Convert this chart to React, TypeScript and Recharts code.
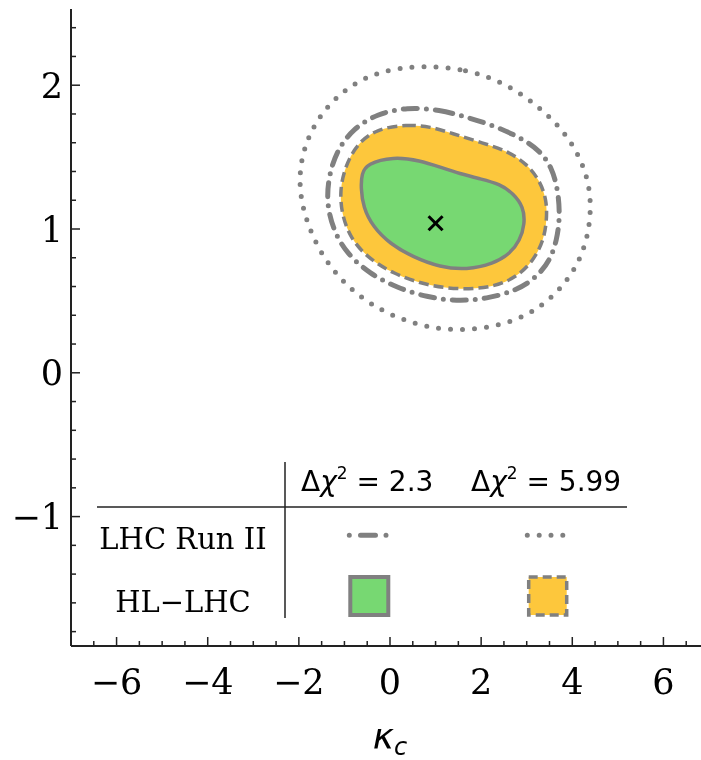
import React from 'react';
import { ScatterChart, Scatter, XAxis, YAxis } from 'recharts';

// tick values
const xTicks = [-6.5, -6, -5.5, -5, -4.5, -4, -3.5, -3, -2.5, -2, -1.5, -1, -0.5, 0, 0.5, 1, 1.5, 2, 2.5, 3, 3.5, 4, 4.5, 5, 5.5, 6, 6.5];
const yTicks = [-1.8, -1.6, -1.4, -1.2, -1, -0.8, -0.6, -0.4, -0.2, 0, 0.2, 0.4, 0.6, 0.8, 1, 1.2, 1.4, 1.6, 1.8, 2, 2.2, 2.4];
const xMajor = [-6, -4, -2, 0, 2, 4, 6];
const yMajor = [-1, 0, 1, 2];

// HL-LHC, Δχ² = 2.3 (green region)
const hlLhc23 = [
  { x: -0.51, y: 1.453 }, { x: 0.07, y: 1.504 }, { x: 0.66, y: 1.476 }, { x: 1.1, y: 1.43 },
  { x: 1.54, y: 1.384 }, { x: 1.97, y: 1.349 }, { x: 2.41, y: 1.314 }, { x: 2.71, y: 1.245 },
  { x: 2.93, y: 1.152 }, { x: 2.96, y: 1.036 }, { x: 2.85, y: 0.92 }, { x: 2.63, y: 0.828 },
  { x: 2.27, y: 0.758 }, { x: 1.68, y: 0.716 }, { x: 1.1, y: 0.734 }, { x: 0.51, y: 0.804 },
  { x: 0.0, y: 0.897 }, { x: -0.37, y: 1.013 }, { x: -0.59, y: 1.152 }, { x: -0.64, y: 1.29 },
  { x: -0.62, y: 1.384 },
];

// HL-LHC, Δχ² = 5.99 (yellow region)
const hlLhc599 = [
  { x: -0.29, y: 1.697 }, { x: 0.37, y: 1.727 }, { x: 0.88, y: 1.713 }, { x: 1.39, y: 1.662 },
  { x: 1.97, y: 1.604 }, { x: 2.56, y: 1.546 }, { x: 3.0, y: 1.453 }, { x: 3.29, y: 1.337 },
  { x: 3.44, y: 1.198 }, { x: 3.44, y: 1.059 }, { x: 3.37, y: 0.92 }, { x: 3.15, y: 0.781 },
  { x: 2.78, y: 0.665 }, { x: 2.27, y: 0.595 }, { x: 1.54, y: 0.577 }, { x: 0.81, y: 0.607 },
  { x: 0.07, y: 0.688 }, { x: -0.51, y: 0.804 }, { x: -0.88, y: 0.943 }, { x: -1.06, y: 1.106 },
  { x: -1.1, y: 1.268 }, { x: -0.99, y: 1.43 }, { x: -0.73, y: 1.592 },
];

// LHC Run II, Δχ² = 2.3 (dash-dot)
const run2_23 = [
  { x: 0.37, y: 1.847 }, { x: 1.1, y: 1.829 }, { x: 1.68, y: 1.778 }, { x: 2.27, y: 1.72 },
  { x: 2.85, y: 1.638 }, { x: 3.29, y: 1.546 }, { x: 3.55, y: 1.43 }, { x: 3.69, y: 1.268 },
  { x: 3.73, y: 1.082 }, { x: 3.66, y: 0.92 }, { x: 3.51, y: 0.781 }, { x: 3.22, y: 0.665 },
  { x: 2.78, y: 0.572 }, { x: 2.12, y: 0.514 }, { x: 1.46, y: 0.498 }, { x: 0.81, y: 0.526 },
  { x: 0.15, y: 0.591 }, { x: -0.44, y: 0.688 }, { x: -0.95, y: 0.828 }, { x: -1.24, y: 0.99 },
  { x: -1.39, y: 1.175 }, { x: -1.35, y: 1.36 }, { x: -1.17, y: 1.546 }, { x: -0.81, y: 1.697 },
  { x: -0.29, y: 1.801 },
];

// LHC Run II, Δχ² = 5.99 (dotted)
const run2_599 = [
  { x: 0.66, y: 2.137 }, { x: 1.68, y: 2.114 }, { x: 2.56, y: 2.01 }, { x: 3.29, y: 1.847 },
  { x: 3.88, y: 1.662 }, { x: 4.28, y: 1.43 }, { x: 4.43, y: 1.198 }, { x: 4.35, y: 0.943 },
  { x: 4.1, y: 0.734 }, { x: 3.66, y: 0.549 }, { x: 3.0, y: 0.387 }, { x: 2.12, y: 0.306 },
  { x: 1.24, y: 0.294 }, { x: 0.51, y: 0.341 }, { x: -0.22, y: 0.433 }, { x: -0.95, y: 0.595 },
  { x: -1.54, y: 0.828 }, { x: -1.9, y: 1.106 }, { x: -2.01, y: 1.337 }, { x: -1.9, y: 1.569 },
  { x: -1.54, y: 1.801 }, { x: -0.95, y: 1.986 }, { x: -0.22, y: 2.102 },
];

// best-fit point
const bestFit = [{ x: 1.0, y: 1.04 }];

const AXIS = '#222';
const GRAY = '#808080';
const GREEN = '#77D872';
const YELLOW = '#FDC73C';
const SERIF = "'DejaVu Serif', serif";
const SANS = "'DejaVu Sans', sans-serif";

const fmt = (v: number) => (v < 0 ? '\u2212' + Math.abs(v) : String(v));
const isMajor = (v: number, list: number[]) => list.some((m) => Math.abs(m - v) < 1e-9);

const BottomTick = (props: any) => {
  const { x, y, payload } = props;
  const major = isMajor(payload.value, xMajor);
  return (
    <g>
      <line x1={x} x2={x} y1={y} y2={y - (major ? 9 : 5)} stroke={AXIS} strokeWidth={1.5} />
      {major && (
        <text x={x} y={y + 48} textAnchor="middle" fontFamily={SERIF} fontSize={35} fill="#000">
          {fmt(payload.value)}
        </text>
      )}
    </g>
  );
};

const TopTick = (props: any) => {
  const { x, y, payload } = props;
  const major = isMajor(payload.value, xMajor);
  return <line x1={x} x2={x} y1={y} y2={y + (major ? 9 : 5)} stroke={AXIS} strokeWidth={1.5} />;
};

const LeftTick = (props: any) => {
  const { x, y, payload } = props;
  const major = isMajor(payload.value, yMajor);
  return (
    <g>
      <line x1={x} x2={x + (major ? 9 : 5)} y1={y} y2={y} stroke={AXIS} strokeWidth={1.5} />
      {major && (
        <text x={x - 8} y={y + 12.5} textAnchor="end" fontFamily={SERIF} fontSize={35} fill="#000">
          {fmt(payload.value)}
        </text>
      )}
    </g>
  );
};

const RightTick = (props: any) => {
  const { x, y, payload } = props;
  const major = isMajor(payload.value, yMajor);
  return <line x1={x} x2={x - (major ? 9 : 5)} y1={y} y2={y} stroke={AXIS} strokeWidth={1.5} />;
};

const KappaLabel = (props: any) => {
  const vb = props.viewBox || {};
  const cx = vb.x + vb.width / 2;
  return (
    <text x={cx} y={741} textAnchor="middle" fontFamily={SANS} fontStyle="italic" fontSize={36} fill="#000">
      κ<tspan fontSize={24} dy={6}>c</tspan>
    </text>
  );
};

const NoPoint = () => <g />;

const Cross = (props: any) => {
  const { cx, cy } = props;
  const s = 7;
  return (
    <g stroke="#000" strokeWidth={3}>
      <line x1={cx - s} y1={cy - s} x2={cx + s} y2={cy + s} />
      <line x1={cx - s} y1={cy + s} x2={cx + s} y2={cy - s} />
    </g>
  );
};

const LegendTable = () => (
  <svg width={702} height={752} style={{ position: 'absolute', left: 0, top: 0, pointerEvents: 'none' }}>
    <text x={293} y={483} fontFamily={SANS} fontSize={28} fill="#000">
      Δ<tspan fontStyle="italic">χ</tspan>
      <tspan fontSize={17} dy={-12}>2</tspan>
      <tspan dy={12}> = 2.3</tspan>
    </text>
    <text x={463} y={483} fontFamily={SANS} fontSize={28} fill="#000">
      Δ<tspan fontStyle="italic">χ</tspan>
      <tspan fontSize={17} dy={-12}>2</tspan>
      <tspan dy={12}> = 5.99</tspan>
    </text>
    <line x1={89} x2={619} y1={499} y2={499} stroke={AXIS} strokeWidth={1.5} />
    <line x1={277} x2={277} y1={454} y2={610} stroke={AXIS} strokeWidth={1.5} />
    <text x={175} y={541} textAnchor="middle" fontFamily={SERIF} fontSize={29} fill="#000">
      LHC Run II
    </text>
    <text x={175} y={604} textAnchor="middle" fontFamily={SERIF} fontSize={29} fill="#000">
      HL−LHC
    </text>
    <path
      d="M341.3,527.3 h0.01 M352.5,527.3 h15 M378,527.3 h0.01"
      stroke={GRAY}
      strokeWidth={5}
      strokeLinecap="round"
      fill="none"
    />
    <path
      d="M519.3,527.3 h0.01 M531.2,527.3 h0.01 M543,527.3 h0.01 M554.8,527.3 h0.01"
      stroke={GRAY}
      strokeWidth={5}
      strokeLinecap="round"
      fill="none"
    />
    <rect x={342.3} y={569} width={38} height={38} fill={GREEN} stroke={GRAY} strokeWidth={4} />
    <rect x={520.7} y={569} width={38} height={38} fill={YELLOW} stroke={GRAY} strokeWidth={3.5} strokeDasharray="9 5" />
  </svg>
);

export default function App() {
  return (
    <div style={{ position: 'fixed', left: 0, top: 0, width: 701, height: 760, overflow: 'hidden' }}>
      <div style={{ position: 'absolute', left: 8, top: 8, width: 702, height: 752 }}>
        <ScatterChart width={702} height={752} margin={{ top: 1, right: 1, bottom: 0, left: 0 }}>
          <XAxis
            xAxisId="b"
            dataKey="x"
            type="number"
            domain={[-7, 7]}
            allowDataOverflow
            ticks={xTicks}
            interval={0}
            height={114}
            tickSize={0}
            tickMargin={0}
            tickLine={false}
            tick={<BottomTick />}
            axisLine={{ stroke: AXIS, strokeWidth: 2 }}
            label={<KappaLabel />}
          />
          <XAxis
            xAxisId="t"
            orientation="top"
            dataKey="x"
            type="number"
            domain={[-7, 7]}
            allowDataOverflow
            ticks={xTicks}
            interval={0}
            height={0}
            tickSize={0}
            tickMargin={0}
            tickLine={false}
            tick={<TopTick />}
            axisLine={{ stroke: AXIS, strokeWidth: 2 }}
          />
          <YAxis
            yAxisId="l"
            dataKey="y"
            type="number"
            domain={[-1.9, 2.53]}
            allowDataOverflow
            ticks={yTicks}
            interval={0}
            width={63}
            tickSize={0}
            tickMargin={0}
            tickLine={false}
            tick={<LeftTick />}
            axisLine={{ stroke: AXIS, strokeWidth: 2 }}
          />
          <YAxis
            yAxisId="r"
            orientation="right"
            dataKey="y"
            type="number"
            domain={[-1.9, 2.53]}
            allowDataOverflow
            ticks={yTicks}
            interval={0}
            width={0}
            tickSize={0}
            tickMargin={0}
            tickLine={false}
            tick={<RightTick />}
            axisLine={{ stroke: AXIS, strokeWidth: 2 }}
          />
          <Scatter
            xAxisId="b"
            yAxisId="l"
            data={hlLhc599}
            isAnimationActive={false}
            shape={NoPoint}
            line={{ fill: YELLOW, stroke: GRAY, strokeWidth: 3.5, strokeDasharray: '10 5' }}
            lineType="joint"
            lineJointType="basisClosed"
          />
          <Scatter
            xAxisId="b"
            yAxisId="l"
            data={hlLhc23}
            isAnimationActive={false}
            shape={NoPoint}
            line={{ fill: GREEN, stroke: GRAY, strokeWidth: 3.5 }}
            lineType="joint"
            lineJointType="basisClosed"
          />
          <Scatter
            xAxisId="b"
            yAxisId="l"
            data={run2_23}
            isAnimationActive={false}
            shape={NoPoint}
            line={{ fill: 'none', stroke: GRAY, strokeWidth: 5, strokeDasharray: '14 9 0 9', strokeLinecap: 'round' }}
            lineType="joint"
            lineJointType="basisClosed"
          />
          <Scatter
            xAxisId="b"
            yAxisId="l"
            data={run2_599}
            isAnimationActive={false}
            shape={NoPoint}
            line={{ fill: 'none', stroke: GRAY, strokeWidth: 5, strokeDasharray: '0 12', strokeLinecap: 'round' }}
            lineType="joint"
            lineJointType="basisClosed"
          />
          <Scatter xAxisId="b" yAxisId="l" data={bestFit} isAnimationActive={false} shape={Cross} />
        </ScatterChart>
        <LegendTable />
      </div>
    </div>
  );
}
